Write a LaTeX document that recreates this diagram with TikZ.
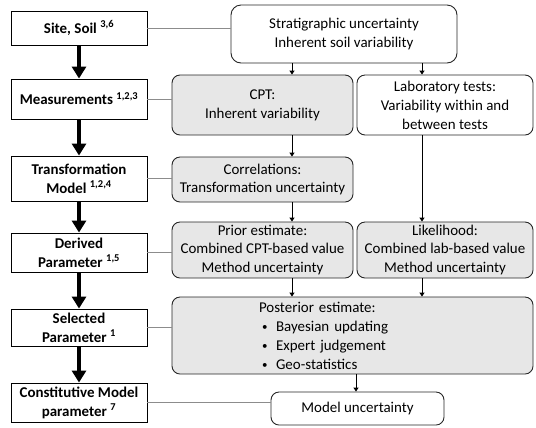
\documentclass[tikz,border=0pt]{standalone}
\usepackage{fontspec}
\setmainfont{Carlito}
\usetikzlibrary{arrows.meta}
\definecolor{boxgray}{RGB}{231,231,231}
\newcommand\bulletitem{\hspace*{3bp}\makebox[14bp][l]{\raisebox{0.5bp}{\fontsize{11}{11}\selectfont\textbullet}}}
\tikzset{
    param/.style={draw, line width=0.9bp, minimum width=136bp, inner sep=1bp, align=center,
      font=\bfseries\fontsize{15}{19}\selectfont},
    uncert/.style={draw=black!85, line width=0.9bp, rounded corners=8bp, inner sep=2bp, align=center,
      fill=white, font=\fontsize{15}{19}\selectfont},
    shaded/.style={uncert, fill=boxgray},
    bigarrow/.style={line width=4.5bp, -{Triangle[width=14bp,length=12bp]}},
    flow/.style={line width=1bp, -{Triangle[width=5bp,length=4bp]}},
    link/.style={draw=black!45, line width=0.8bp},
  }
\begin{document}
\begin{tikzpicture}[x=1bp,y=-1bp]
				  \useasboundingbox (0,0) rectangle (536,427);

				  %LEFT COLUMN
				  \node[param, minimum height=34bp](site) at (79,28) {Site, Soil \textsuperscript{3,6}};
				  \node[param, minimum height=40bp](meas) at (79,99) {Measurements \textsuperscript{1,2,3}};
				  \node[param, minimum height=45bp](trans) at (79,178.5) {Transformation\\Model \textsuperscript{1,2,4}};
				  \node[param, minimum height=39bp](derived) at (79,252.5) {Derived\\Parameter \textsuperscript{1,5}};
				  \node[param, minimum height=37bp](selected) at (79,327.5) {Selected\\Parameter \textsuperscript{1}};
				  \node[param, minimum height=39bp](const) at (79,402.5) {Constitutive Model\\parameter \textsuperscript{7}};
				  \draw[bigarrow] (site) -- (meas);
				  \draw[bigarrow] (meas) -- (trans);
				  \draw[bigarrow] (trans) -- (derived);
				  \draw[bigarrow] (derived) -- (selected);
				  \draw[bigarrow] (selected) -- (const);

				  %RIGHT COLUMN
				  \node[uncert, minimum width=226bp, minimum height=58bp, rounded corners=10bp](strat) at (344,34) {Stratigraphic uncertainty\\Inherent soil variability};
				  \node[shaded, minimum width=181bp, minimum height=60bp](cpt) at (262.5,105) {CPT:\\Inherent variability};
				  \node[uncert, minimum width=176bp, minimum height=60bp](lab) at (445,105) {Laboratory tests:\\Variability within and\\between tests};
				  \node[shaded, minimum width=181bp, minimum height=45bp](corr) at (262.5,179.5) {Correlations:\\Transformation uncertainty};
				  \node[shaded, minimum width=181bp, minimum height=56bp](prior) at (262.5,250) {Prior estimate:\\Combined CPT-based value\\Method uncertainty};
				  \node[shaded, minimum width=176bp, minimum height=56bp](like) at (445,250) {Likelihood:\\Combined lab-based value\\Method uncertainty};
				  \node[shaded, minimum height=77bp, text width=187bp, inner xsep=87bp, align=left](post) at (352.5,335.5)
				    {Posterior estimate:\\
				     \bulletitem Bayesian updating\\
				     \bulletitem Expert judgement\\
				     \bulletitem Geo-statistics};
				  \node[uncert, minimum width=173bp, minimum height=33bp](model) at (357.5,408.5) {Model uncertainty};

				  %ARROWS
				  \coordinate (colA) at (292,0);
				  \coordinate (colB) at (422,0);
				  \coordinate (colC) at (356,0);
				  \draw[flow] (strat.south -| colA) -- (cpt.north -| colA);
				  \draw[flow] (strat.south -| colB) -- (lab.north -| colB);
				  \draw[flow] (cpt.south -| colA) -- (corr.north -| colA);
				  \draw[flow] (corr.south -| colA) -- (prior.north -| colA);
				  \draw[flow] (lab.south -| colB) -- (like.north -| colB);
				  \draw[flow] (prior.south -| colA) -- (post.north -| colA);
				  \draw[flow] (like.south -| colB) -- (post.north -| colB);
				  \draw[flow] (post.south -| colC) -- (model.north -| colC);

				  %LINKS
				  \draw[link] (site.east) -- (site.east -| strat.west);
				  \draw[link] (meas.east) -- (meas.east -| cpt.west);
				  \draw[link] (trans.east) -- (trans.east -| corr.west);
				  \draw[link] (derived.east) -- (derived.east -| prior.west);
				  \draw[link] (selected.east) -- (selected.east -| post.west);
				  \draw[link] (const.east) -- (const.east -| model.west);
\end{tikzpicture}
\end{document}
